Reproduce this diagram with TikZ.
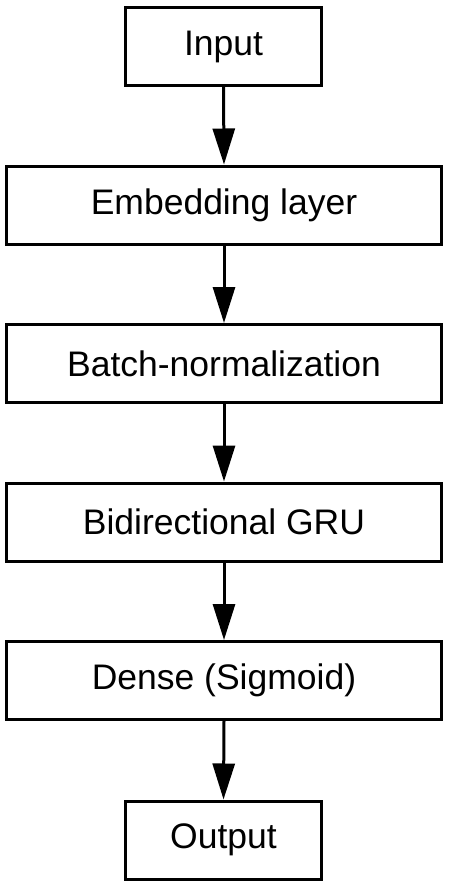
\documentclass[tikz,border=0pt]{standalone}
\usepackage{fontspec}
\setmainfont{Liberation Sans}
\usetikzlibrary{arrows.meta}
\begin{document}
\begin{tikzpicture}[x=1pt,y=-1pt,
  box/.style={draw=black,line width=3pt,fill=white,minimum height=78pt,inner sep=0pt,font=\fontsize{35.5}{42}\selectfont},
  wide/.style={box,minimum width=435pt},
  narrow/.style={box,minimum width=196pt},
  conn/.style={line width=3pt,-{Triangle[width=22pt,length=36pt]}}]
\useasboundingbox (0,0) rectangle (448,889);
\node[narrow] (in) at (223.5,46.5) {Input};
\node[wide] (emb) at (224,205) {Embedding layer};
\node[wide] (bn) at (224,363.5) {Batch-normalization};
\node[wide] (gru) at (224,522) {Bidirectional GRU};
\node[wide] (dense) at (224,680.5) {Dense (Sigmoid)};
\node[narrow] (out) at (223.5,840) {Output};
\draw[conn] (in.south) -- (emb.north);
\draw[conn] (emb.south) -- (bn.north);
\draw[conn] (bn.south) -- (gru.north);
\draw[conn] (gru.south) -- (dense.north);
\draw[conn] (dense.south) -- (out.north);
\end{tikzpicture}
\end{document}
